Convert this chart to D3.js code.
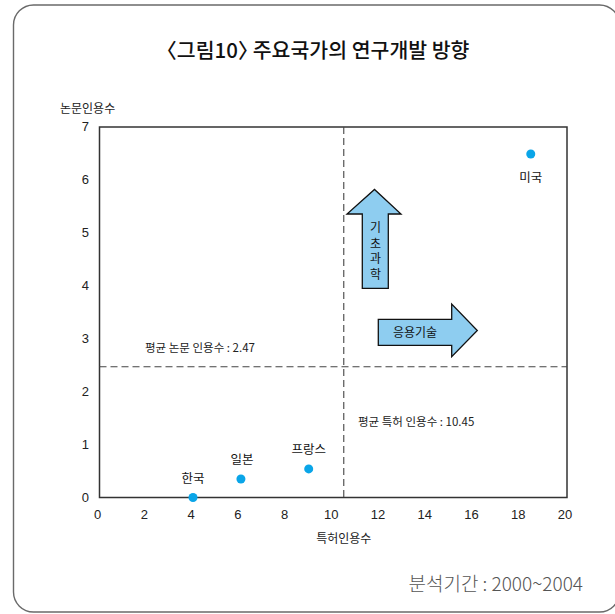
<!DOCTYPE html>
<html>
<head>
<meta charset="utf-8">
<script src="https://cdn.jsdelivr.net/npm/d3@7"></script>
<style>
  html, body { margin: 0; padding: 0; background: #fff; }
  svg { display: block; }
  text { font-family: "Noto Sans CJK KR", "Noto Sans", sans-serif; }
  .num { font-family: "Liberation Sans", Arial, sans-serif; }
  .title { font-feature-settings: "halt"; }
</style>
</head>
<body>
<script>
// Countries: patent citations (x) vs. paper citations (y)
const countries = ["한국", "일본", "프랑스", "미국"];
const patentCitations = [4.0, 6.05, 8.95, 18.45];
const paperCitations = [0.0, 0.35, 0.54, 6.49];
const meanPatent = 10.45;
const meanPaper = 2.47;
const xTicks = [0, 2, 4, 6, 8, 10, 12, 14, 16, 18, 20];
const yTicks = [0, 1, 2, 3, 4, 5, 6, 7];

const W = 615, H = 614;
const svg = d3.select("body").append("svg").attr("width", W).attr("height", H);

// rounded frame
svg.append("rect")
  .attr("x", 13.5).attr("y", 5).attr("width", 606).attr("height", 607)
  .attr("rx", 20).attr("ry", 20)
  .attr("fill", "none").attr("stroke", "#6a6a6a").attr("stroke-width", 1.4);

// title, with half-width angle brackets
svg.append("text")
  .attr("class", "title")
  .attr("x", 318).attr("y", 58).attr("text-anchor", "middle")
  .attr("font-size", 20.5).attr("font-weight", 500).attr("fill", "#111")
  .text("〈그림10〉 주요국가의 연구개발 방향");

const x = d3.scaleLinear().domain([0, 20]).range([99.5, 567]);
const y = d3.scaleLinear().domain([0, 7]).range([497.5, 127]);

// plot frame
svg.append("rect")
  .attr("x", x(0)).attr("y", y(7))
  .attr("width", x(20) - x(0)).attr("height", y(0) - y(7))
  .attr("fill", "none").attr("stroke", "#333").attr("stroke-width", 1.5);

// tick labels
svg.append("g").selectAll("text").data(xTicks).join("text")
  .attr("class", "num")
  .attr("x", d => x(d) - 2).attr("y", 519).attr("text-anchor", "middle")
  .attr("font-size", 13).attr("fill", "#222")
  .text(d => d);

svg.append("g").selectAll("text").data(yTicks).join("text")
  .attr("class", "num")
  .attr("x", 89).attr("y", d => y(d) + 4).attr("text-anchor", "end")
  .attr("font-size", 13).attr("fill", "#222")
  .text(d => d);

// axis titles
svg.append("text")
  .attr("x", 60).attr("y", 113)
  .attr("font-size", 12).attr("fill", "#222").text("논문인용수");
svg.append("text")
  .attr("x", x(meanPatent)).attr("y", 543).attr("text-anchor", "middle")
  .attr("font-size", 12).attr("fill", "#222").text("특허인용수");

// mean lines
svg.append("line")
  .attr("x1", x(meanPatent)).attr("x2", x(meanPatent))
  .attr("y1", y(7)).attr("y2", y(0))
  .attr("stroke", "#444").attr("stroke-width", 1.1).attr("stroke-dasharray", "7,4");
svg.append("line")
  .attr("x1", x(0)).attr("x2", x(20))
  .attr("y1", y(meanPaper)).attr("y2", y(meanPaper))
  .attr("stroke", "#444").attr("stroke-width", 1.1).attr("stroke-dasharray", "7,4");

svg.append("text")
  .attr("x", 145).attr("y", 352)
  .attr("font-size", 11.5).attr("fill", "#222").text("평균 논문 인용수 : " + meanPaper);
svg.append("text")
  .attr("x", 358).attr("y", 426)
  .attr("font-size", 11.5).attr("fill", "#222").text("평균 특허 인용수 : " + meanPatent);

// direction arrows
const arrowFill = "#8ecdf0";
const upArrow = [[362.3, 288.3], [362.3, 214], [347, 214], [374.5, 189.5], [401, 214], [388.3, 214], [388.3, 288.3]];
const rightArrow = [[378.3, 319.3], [451.7, 319.3], [451.7, 304], [477.3, 330.5], [451.7, 356.7], [451.7, 345.3], [378.3, 345.3]];
const line = d3.line().curve(d3.curveLinearClosed);
svg.append("path").attr("d", line(upArrow))
  .attr("fill", arrowFill).attr("stroke", "#111").attr("stroke-width", 1.3);
svg.append("path").attr("d", line(rightArrow))
  .attr("fill", arrowFill).attr("stroke", "#111").attr("stroke-width", 1.3);

const vertLabel = Array.from("기초과학");
svg.append("g").selectAll("text").data(vertLabel).join("text")
  .attr("x", 375.5).attr("y", (d, i) => 232 + i * 15.5).attr("text-anchor", "middle")
  .attr("font-size", 12).attr("fill", "#111").text(d => d);
svg.append("text")
  .attr("x", 415).attr("y", 337).attr("text-anchor", "middle")
  .attr("font-size", 12).attr("fill", "#111").text("응용기술");

// country points
const pts = countries.map((c, i) => ({ name: c, px: patentCitations[i], py: paperCitations[i] }));
svg.append("g").selectAll("circle").data(pts).join("circle")
  .attr("cx", d => x(d.px)).attr("cy", d => y(d.py)).attr("r", 4.5)
  .attr("fill", "#0aa5e8");

const labelOffset = { "한국": [0, -15], "일본": [1, -15], "프랑스": [0, -15], "미국": [0, 28] };
svg.append("g").selectAll("text").data(pts).join("text")
  .attr("x", d => x(d.px) + labelOffset[d.name][0])
  .attr("y", d => y(d.py) + labelOffset[d.name][1])
  .attr("text-anchor", "middle")
  .attr("font-size", 12.5).attr("fill", "#111").text(d => d.name);

// footer
svg.append("text")
  .attr("x", 583).attr("y", 591).attr("text-anchor", "end")
  .attr("font-size", 19).attr("font-weight", 300).attr("fill", "#555")
  .text("분석기간 : 2000~2004");
</script>
</body>
</html>
